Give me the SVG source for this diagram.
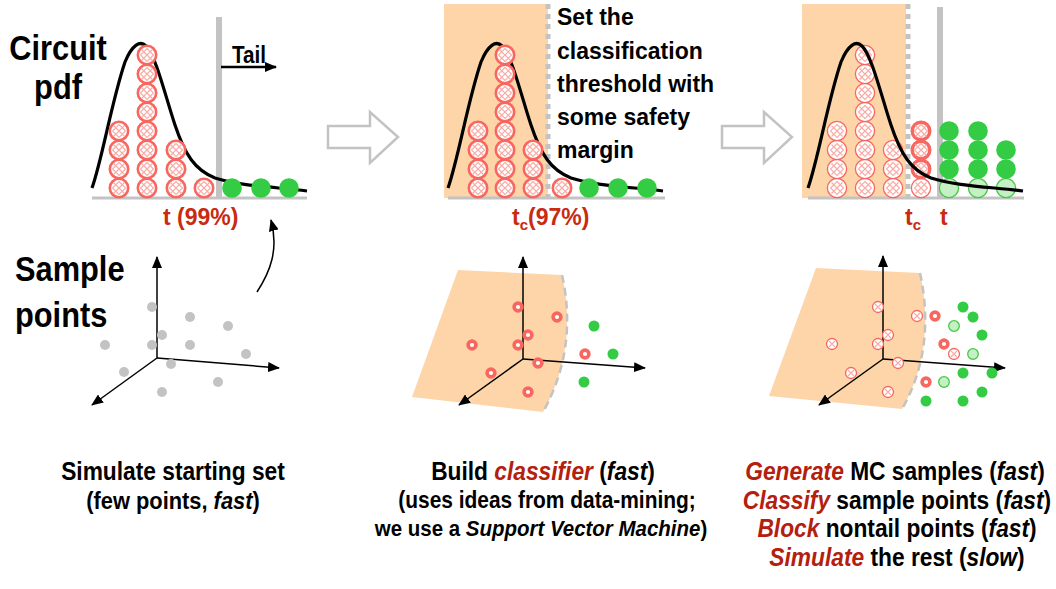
<svg xmlns="http://www.w3.org/2000/svg" width="1056" height="589" viewBox="0 0 1056 589">
<style>
text{font-family:"Liberation Sans",Arial,sans-serif;font-weight:bold;fill:#000}
.h{font-size:35px}
.s23{font-size:23px}
.c25{font-size:25px}
.c24{font-size:24px}
.c23{font-size:23px}
.c22{font-size:22.5px}
.red{fill:#b3200e;font-style:italic}
.it{font-style:italic}
.lab{fill:#c92a10;font-size:23px}
.base{stroke:#c3c3c3;stroke-width:3;fill:none}
.vline{stroke:#c3c3c3;stroke-width:6}
.dash{stroke:#c3c3c3;stroke-width:5;stroke-dasharray:5 5}
.peach{fill:#fdd5a9}
.curve{fill:none;stroke:#000;stroke-width:3.2}
.rcK{fill:#fff;stroke:#f8675f;stroke-width:2.6}
.rcT{fill:#fff;stroke:#f8675f;stroke-width:1.3}
.rcB{fill:#fff;stroke:#f8675f;stroke-width:3.4}
.hx{fill:none;stroke:#f9aaa5;stroke-width:1.1}
.gd{fill:#35cc45}
.lg{fill:#c5efc5;stroke:#45c945;stroke-width:1.3}
.gray{fill:#c3c3c3}
.rr{fill:#fff;stroke:#f8675f;stroke-width:3.6}
.ax{stroke:#000;stroke-width:1.5;fill:none;marker-end:url(#ah)}
.hollow{fill:#fff;stroke:#c3c3c3;stroke-width:2.5}
.sep{fill:none;stroke:#c3c3c3;stroke-width:2.5;stroke-dasharray:8 5}
</style>
<defs>
<marker id="ah" markerUnits="userSpaceOnUse" markerWidth="12" markerHeight="10" viewBox="0 0 12 10" refX="11" refY="5" orient="auto"><path d="M0,0 L12,5 L0,10 Z" fill="#000"/></marker>
<path id="pdf" class="curve" d="M92,188 C102,160 112,100 125,62 C132,45 140,40 146,46 C156,56 165,95 175,125 C185,155 195,170 215,178 C240,186 275,187 307,191"/>
<g id="rk"><circle r="9.2" class="rcK"/><path class="hx" d="M-5.5,-5.5L5.5,5.5M5.5,-5.5L-5.5,5.5M0,-6.5L6.5,0L0,6.5L-6.5,0Z"/></g>
<g id="rt"><circle r="9.6" class="rcT"/><path class="hx" d="M-5.5,-5.5L5.5,5.5M5.5,-5.5L-5.5,5.5M0,-6.5L6.5,0L0,6.5L-6.5,0Z"/></g>
<g id="rb"><circle r="8.8" class="rcB"/><path class="hx" d="M-5.5,-5.5L5.5,5.5M5.5,-5.5L-5.5,5.5M0,-6.5L6.5,0L0,6.5L-6.5,0Z"/></g>
<g id="st"><circle r="5.5" class="rcT"/><path class="hx" d="M-3,-3L3,3M3,-3L-3,3"/></g>
</defs>
<rect width="1056" height="589" fill="#fff"/>

<!-- Row labels -->
<g id="label-circuit-pdf">
<text class="h" transform="translate(58,60) scale(0.88,1)" text-anchor="middle">Circuit</text>
<text class="h" transform="translate(58,99) scale(0.88,1)" text-anchor="middle">pdf</text>
</g>
<g id="label-sample-points">
<text class="h" transform="translate(15,281) scale(0.88,1)">Sample</text>
<text class="h" transform="translate(15,327) scale(0.88,1)">points</text>
</g>

<!-- Panel 1 top -->
<g id="pdf1">
<line class="vline" x1="219" y1="17" x2="219" y2="198"/>
<line class="base" x1="92" y1="198" x2="307" y2="198"/>
<use href="#pdf"/>
<use href="#rk" x="119" y="188"/><use href="#rk" x="119" y="169"/><use href="#rk" x="119" y="150"/><use href="#rk" x="119" y="131"/>
<use href="#rk" x="147" y="188"/><use href="#rk" x="147" y="169"/><use href="#rk" x="147" y="150"/><use href="#rk" x="147" y="131"/>
<use href="#rk" x="147" y="112"/><use href="#rk" x="147" y="93"/><use href="#rk" x="147" y="74"/><use href="#rk" x="147" y="55"/>
<use href="#rk" x="176" y="188"/><use href="#rk" x="176" y="169"/><use href="#rk" x="176" y="150"/>
<use href="#rk" x="204" y="188"/>
<circle class="gd" cx="232" cy="188" r="9.8"/><circle class="gd" cx="261" cy="188" r="9.8"/><circle class="gd" cx="289" cy="188" r="9.8"/>
<text transform="translate(232,63) scale(0.9,1)" style="font-size:23px">Tail</text>
<line x1="221" y1="67" x2="276" y2="67" stroke="#000" stroke-width="2.5" marker-end="url(#ah)"/>
<text class="lab" x="163" y="225">t (99%)</text>
</g>

<!-- Panel 2 top -->
<g id="pdf2">
<rect class="peach" x="444" y="4" width="104" height="194"/>
<line class="dash" x1="548" y1="4" x2="548" y2="198"/>
<line class="base" x1="448" y1="198" x2="665" y2="198"/>
<use href="#pdf" transform="translate(356,0)"/>
<use href="#rk" x="478" y="188"/><use href="#rk" x="478" y="169"/><use href="#rk" x="478" y="150"/><use href="#rk" x="478" y="131"/>
<use href="#rk" x="505" y="188"/><use href="#rk" x="505" y="169"/><use href="#rk" x="505" y="150"/><use href="#rk" x="505" y="131"/>
<use href="#rk" x="505" y="112"/><use href="#rk" x="505" y="93"/><use href="#rk" x="505" y="74"/><use href="#rk" x="505" y="55"/>
<use href="#rk" x="533" y="188"/><use href="#rk" x="533" y="169"/><use href="#rk" x="533" y="150"/>
<use href="#rk" x="562" y="188"/>
<circle class="gd" cx="589" cy="188" r="9.8"/><circle class="gd" cx="618" cy="188" r="9.8"/><circle class="gd" cx="647" cy="188" r="9.8"/>
<text class="lab" x="512" y="225">t<tspan style="font-size:15px" dy="5">c</tspan><tspan dy="-5">(97%)</tspan></text>
<text class="s23" x="557" y="25">Set the</text>
<text class="s23" x="557" y="59">classification</text>
<text class="s23" x="557" y="92">threshold with</text>
<text class="s23" x="557" y="125">some safety</text>
<text class="s23" x="557" y="158">margin</text>
</g>

<!-- Panel 3 top -->
<g id="pdf3">
<rect class="peach" x="802" y="4" width="104" height="194"/>
<line class="dash" x1="908" y1="4" x2="908" y2="198"/>
<line class="vline" x1="940" y1="7" x2="940" y2="198"/>
<line class="base" x1="808" y1="198" x2="1024" y2="198"/>
<use href="#rt" x="837" y="188"/><use href="#rt" x="837" y="169"/><use href="#rt" x="837" y="150"/><use href="#rt" x="837" y="131"/>
<use href="#rt" x="865" y="188"/><use href="#rt" x="865" y="169"/><use href="#rt" x="865" y="150"/><use href="#rt" x="865" y="131"/>
<use href="#rt" x="865" y="112"/><use href="#rt" x="865" y="93"/><use href="#rt" x="865" y="74"/><use href="#rt" x="865" y="55"/>
<use href="#rt" x="893" y="188"/><use href="#rt" x="893" y="169"/><use href="#rt" x="893" y="150"/>
<use href="#rt" x="921" y="188"/><use href="#rb" x="921" y="169"/><use href="#rb" x="921" y="150"/><use href="#rb" x="921" y="131"/>
<circle class="lg" cx="949" cy="188" r="9.6"/><circle class="lg" cx="978" cy="188" r="9.6"/><circle class="lg" cx="1006" cy="188" r="9.6"/>
<circle class="gd" cx="949" cy="169" r="9.8"/><circle class="gd" cx="949" cy="150" r="9.8"/><circle class="gd" cx="949" cy="131" r="9.8"/>
<circle class="gd" cx="978" cy="169" r="9.8"/><circle class="gd" cx="978" cy="150" r="9.8"/><circle class="gd" cx="978" cy="131" r="9.8"/>
<circle class="gd" cx="1006" cy="169" r="9.8"/><circle class="gd" cx="1006" cy="150" r="9.8"/>
<use href="#pdf" transform="translate(716,0)"/>
<text class="lab" x="905" y="225">t<tspan style="font-size:15px" dy="5">c</tspan></text>
<text class="lab" x="940" y="225">t</text>
</g>

<!-- Hollow step arrows -->
<g id="step-arrow-1"><polygon class="hollow" points="328,126 370,126 370,112 398,137 370,163 370,148 328,148"/></g>
<g id="step-arrow-2"><polygon class="hollow" points="722,126 764,126 764,112 792,137 764,163 764,148 722,148"/></g>

<!-- Connectors -->
<g id="connectors">
<path class="ax" d="M257,292 C270,272 279,250 271,220"/>
</g>

<!-- Bottom panel 1 -->
<g id="space1">
<line class="ax" x1="157" y1="358" x2="157" y2="257"/>
<line class="ax" x1="157" y1="358" x2="279" y2="368"/>
<line class="ax" x1="157" y1="358" x2="92" y2="405"/>
<circle class="gray" cx="152" cy="307" r="5"/><circle class="gray" cx="190" cy="317" r="5"/><circle class="gray" cx="228" cy="326" r="5"/>
<circle class="gray" cx="162" cy="335" r="5"/><circle class="gray" cx="105" cy="345" r="5"/><circle class="gray" cx="152" cy="345" r="5"/>
<circle class="gray" cx="190" cy="345" r="5"/><circle class="gray" cx="246" cy="354" r="5"/><circle class="gray" cx="171" cy="364" r="5"/>
<circle class="gray" cx="124" cy="372" r="5"/><circle class="gray" cx="218" cy="382" r="5"/><circle class="gray" cx="162" cy="392" r="5"/>
</g>

<!-- Bottom panel 2 -->
<g id="space2">
<path class="peach" d="M458,270 L562,275 C570,310 572,360 543,412 L412,397 Z"/>
<path class="sep" d="M562,275 C570,310 572,360 543,412"/>
<line class="ax" x1="523" y1="359" x2="523" y2="257"/>
<line class="ax" x1="523" y1="359" x2="645" y2="368"/>
<line class="ax" x1="523" y1="359" x2="459" y2="405"/>
<circle class="rr" cx="518" cy="307" r="3.9"/><circle class="rr" cx="557" cy="317" r="3.9"/><circle class="rr" cx="528" cy="335" r="3.9"/>
<circle class="rr" cx="472" cy="345" r="3.9"/><circle class="rr" cx="518" cy="345" r="3.9"/><circle class="rr" cx="585" cy="354" r="3.9"/>
<circle class="rr" cx="538" cy="363" r="3.9"/><circle class="rr" cx="491" cy="373" r="3.9"/><circle class="rr" cx="528" cy="392" r="3.9"/>
<circle class="gd" cx="594" cy="326" r="5.5"/><circle class="gd" cx="613" cy="354" r="5.5"/><circle class="gd" cx="584" cy="382" r="5.5"/>
</g>

<!-- Bottom panel 3 -->
<g id="space3">
<path class="peach" d="M816,268 L920,273 C928,310 930,360 902,409 L769,396 Z"/>
<path class="sep" d="M920,273 C928,310 930,360 902,409"/>
<line class="ax" x1="883" y1="359" x2="883" y2="256"/>
<line class="ax" x1="883" y1="359" x2="1005" y2="368"/>
<line class="ax" x1="883" y1="359" x2="819" y2="405"/>
<use href="#st" x="878" y="307"/><use href="#st" x="917" y="316"/><use href="#st" x="888" y="335"/>
<use href="#st" x="832" y="344"/><use href="#st" x="878" y="344"/><use href="#st" x="954" y="354"/>
<use href="#st" x="898" y="363"/><use href="#st" x="851" y="373"/><use href="#st" x="888" y="392"/>
<circle class="rr" cx="935" cy="316" r="3.9"/><circle class="rr" cx="944" cy="344" r="3.9"/><circle class="rr" cx="926" cy="382" r="3.9"/>
<circle class="lg" cx="954" cy="326" r="5.3"/><circle class="lg" cx="973" cy="354" r="5.3"/><circle class="lg" cx="944" cy="382" r="5.3"/>
<circle class="gd" cx="963" cy="307" r="5.5"/><circle class="gd" cx="973" cy="317" r="5.5"/><circle class="gd" cx="982" cy="335" r="5.5"/>
<circle class="gd" cx="963" cy="373" r="5.5"/><circle class="gd" cx="992" cy="373" r="5.5"/><circle class="gd" cx="982" cy="392" r="5.5"/>
<circle class="gd" cx="926" cy="401" r="5.5"/><circle class="gd" cx="963" cy="401" r="5.5"/>
</g>

<!-- Captions -->
<g id="caption1">
<text class="c25" transform="translate(173,480) scale(0.91,1)" text-anchor="middle">Simulate starting set</text>
<text class="c24" transform="translate(173,509) scale(0.91,1)" text-anchor="middle">(few points, <tspan class="it">fast</tspan>)</text>
</g>
<g id="caption2">
<text class="c25" transform="translate(543,480) scale(0.91,1)" text-anchor="middle">Build <tspan class="red">classifier</tspan> (<tspan class="it">fast</tspan>)</text>
<text class="c23" transform="translate(547,508) scale(0.91,1)" text-anchor="middle">(uses ideas from data-mining;</text>
<text class="c22" transform="translate(541,536) scale(0.91,1)" text-anchor="middle">we use a <tspan class="it">Support Vector Machine</tspan>)</text>
</g>
<g id="caption3">
<text class="c25" transform="translate(895,480) scale(0.91,1)" text-anchor="middle"><tspan class="red">Generate</tspan> MC samples (<tspan class="it">fast</tspan>)</text>
<text class="c25" transform="translate(897,509) scale(0.91,1)" text-anchor="middle"><tspan class="red">Classify</tspan> sample points (<tspan class="it">fast</tspan>)</text>
<text class="c25" transform="translate(897,537) scale(0.91,1)" text-anchor="middle"><tspan class="red">Block</tspan> nontail points (<tspan class="it">fast</tspan>)</text>
<text class="c25" transform="translate(897,566) scale(0.91,1)" text-anchor="middle"><tspan class="red">Simulate</tspan> the rest (<tspan class="it">slow</tspan>)</text>
</g>
</svg>
